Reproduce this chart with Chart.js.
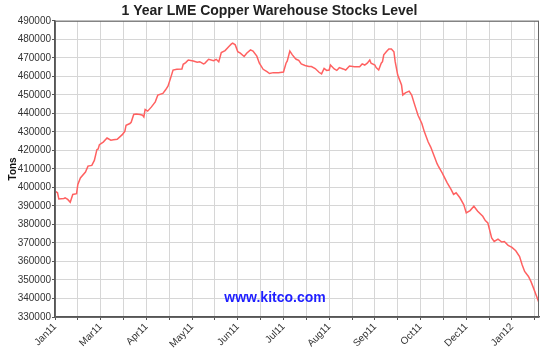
<!DOCTYPE html>
<html>
<head>
<meta charset="utf-8">
<script src="https://cdn.jsdelivr.net/npm/chart.js@4/dist/chart.umd.min.js"></script>
<style>
html,body{margin:0;padding:0;background:#fff;}
#wrap{width:550px;height:348px;position:relative;}
</style>
</head>
<body>
<div id="wrap"><canvas id="c" width="550" height="348"></canvas></div>
<script>
// Days since start of the 1-year window
const days = [0,2,3,7,8,10,12,14,17,18,20,24,26,29,31,33,34,35,38,41,44,46,49,53,55,56,59,60,62,64,67,69,70,71,73,76,79,81,85,87,89,91,93,96,100,101,103,105,109,112,114,117,118,121,125,127,129,131,134,137,139,140,142,144,146,149,151,154,156,159,161,164,167,169,172,176,180,182,183,185,187,189,190,192,194,197,200,202,205,208,210,212,214,216,217,220,222,224,227,229,232,236,240,242,244,246,248,249,252,253,255,257,258,259,261,263,265,267,268,270,273,274,276,279,281,283,286,289,291,294,296,299,301,302,305,306,309,312,314,316,319,322,324,327,330,333,337,339,341,344,346,349,352,354,357,360,363,366,368,370,373,375,377,379,381];
// Warehouse stocks (tons)
const tons = [398000,397100,393800,394000,394400,393500,392000,396200,396600,401600,405100,408300,411500,411900,414600,420400,420800,423100,424500,426700,425500,425700,426000,428500,430300,433600,434500,435200,439400,439600,439400,439000,438100,442100,441200,443500,446200,449900,450800,452600,454700,458900,463400,463800,464000,466500,467400,468800,468300,467600,467900,466700,467000,469200,468500,469200,467800,472900,473900,476100,477500,477900,477000,473300,472500,470700,472500,474300,473600,470900,467100,463800,462500,461500,462000,462000,462300,467100,468300,473700,471600,469900,469200,468600,466700,465900,465300,465300,464200,462200,461300,464300,463200,463400,466100,464000,463200,464700,464000,463400,465600,465200,465200,466700,466100,467100,468800,467100,466100,464700,463400,467100,467900,471600,473300,474800,474800,473300,467900,460700,455300,449900,451100,452000,449900,445400,439000,434500,430000,424500,421800,416400,412800,411500,407900,406500,402500,398900,396200,397100,394400,390700,386200,387500,389800,387100,384400,382100,380800,372700,370800,372100,370500,370800,368700,367600,365800,362700,358200,354600,351900,349100,345600,341900,338300];
// X tick labels (every second grid line)
const xLabels = ['Jan11','Mar11','Apr11','May11','Jun11','Jul11','Aug11','Sep11','Oct11','Dec11','Jan12'];
const xGridStep = 18;
const xGridCount = 21;
const xMax = 381.3;
// Y ticks
const yTicks = [330000,340000,350000,360000,370000,380000,390000,400000,410000,420000,430000,440000,450000,460000,470000,480000,490000];

const points = days.map((d, i) => ({x: d, y: tons[i]}));
const FONT = "'Liberation Sans', Arial, Helvetica, sans-serif";

const extras = {
  id: 'extras',
  afterDraw(chart) {
    const {ctx, chartArea: a} = chart;
    ctx.save();
    ctx.strokeStyle = '#666';
    ctx.lineWidth = 1;
    ctx.strokeRect(a.left + 0.5, a.top + 0.5, a.right - a.left - 1, a.bottom - a.top);
    ctx.fillStyle = '#1f1fff';
    ctx.font = 'bold 14px ' + FONT;
    ctx.textAlign = 'center';
    ctx.textBaseline = 'middle';
    ctx.fillText('www.kitco.com', 275, 298);
    ctx.restore();
  }
};

new Chart(document.getElementById('c'), {
  type: 'line',
  data: {
    datasets: [{
      data: points,
      borderColor: '#ff6161',
      borderWidth: 1.5,
      pointRadius: 0,
      tension: 0,
      fill: false
    }]
  },
  options: {
    responsive: false,
    animation: false,
    events: [],
    layout: {padding: {left: 0, right: 11, top: 0, bottom: 0}},
    plugins: {
      legend: {display: false},
      tooltip: {enabled: false},
      title: {
        display: true,
        text: '1 Year LME Copper Warehouse Stocks Level',
        color: '#222',
        font: {family: FONT, size: 14, weight: 'bold', lineHeight: 1.2},
        padding: {top: 3, bottom: 1}
      }
    },
    scales: {
      x: {
        type: 'linear',
        min: 0,
        max: xMax,
        afterBuildTicks(scale) {
          const t = [];
          for (let i = 0; i <= xGridCount; i++) t.push({value: i * xGridStep});
          scale.ticks = t;
        },
        afterFit(scale) { scale.height = 31; },
        ticks: {
          autoSkip: false,
          maxRotation: 45,
          minRotation: 45,
          padding: 1,
          color: '#333',
          font: {family: FONT, size: 10},
          callback(v) {
            const i = Math.round(v / xGridStep);
            return i % 2 === 0 ? (xLabels[i / 2] || '') : '';
          }
        },
        grid: {color: '#d6d6d6', lineWidth: 1, tickLength: 3, tickColor: '#555'},
        border: {color: '#555', width: 1.5}
      },
      y: {
        type: 'linear',
        min: 330000,
        max: 490000,
        afterBuildTicks(scale) { scale.ticks = yTicks.map(v => ({value: v})); },
        afterFit(scale) { scale.width = 55; },
        ticks: {
          color: '#333',
          padding: 1,
          font: {family: FONT, size: 10},
          callback(v) { return String(v); }
        },
        title: {
          display: true,
          text: 'Tons',
          color: '#111',
          font: {family: FONT, size: 10, weight: 'bold'},
          padding: {top: 7, bottom: 0}
        },
        grid: {color: '#d6d6d6', lineWidth: 1, tickLength: 3, tickColor: '#555'},
        border: {color: '#555', width: 1.5}
      }
    }
  },
  plugins: [extras]
});
</script>
</body>
</html>
